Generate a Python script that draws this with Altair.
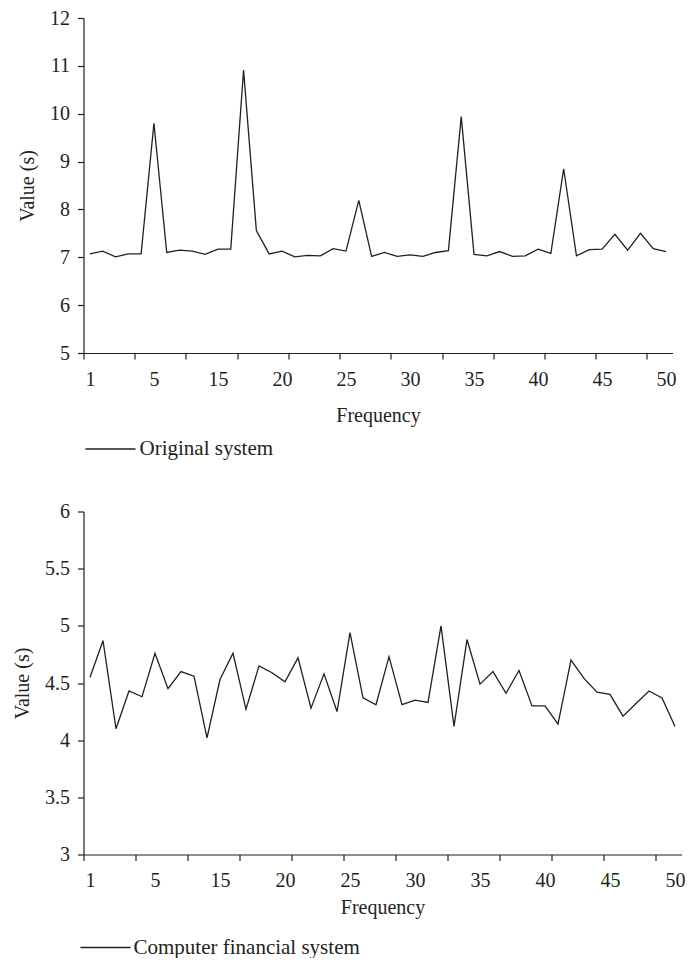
import altair as alt
import pandas as pd

# ---- data ----
x_index = list(range(1, 47))
original_values = [7.07, 7.13, 7.01, 7.07, 7.07, 9.80, 7.10, 7.15, 7.13, 7.06,
                   7.17, 7.17, 10.91, 7.56, 7.07, 7.13, 7.01, 7.04, 7.03, 7.18,
                   7.13, 8.19, 7.02, 7.10, 7.02, 7.05, 7.02, 7.10, 7.14, 9.94,
                   7.06, 7.03, 7.12, 7.02, 7.03, 7.17, 7.08, 8.85, 7.03, 7.16,
                   7.17, 7.48, 7.15, 7.50, 7.18, 7.12]
computer_values = [4.55, 4.87, 4.10, 4.43, 4.38, 4.76, 4.45, 4.60, 4.56, 4.02,
                   4.53, 4.76, 4.27, 4.65, 4.59, 4.51, 4.72, 4.28, 4.58, 4.25,
                   4.94, 4.37, 4.31, 4.73, 4.31, 4.35, 4.33, 5.00, 4.12, 4.88,
                   4.49, 4.60, 4.41, 4.61, 4.30, 4.30, 4.14, 4.70, 4.54, 4.42,
                   4.40, 4.21, 4.32, 4.43, 4.37, 4.12]
x_tick_labels = ["1", "5", "15", "20", "25", "30", "35", "40", "45", "50"]
top_y_ticks = [5, 6, 7, 8, 9, 10, 11, 12]
bottom_y_ticks = [3, 3.5, 4, 4.5, 5, 5.5, 6]
series_names = ["Original system", "Computer financial system"]

FONT = "Liberation Serif"
INK = "#231f20"

label_pos = [1 + 5 * i for i in range(len(x_tick_labels))]      # category centres
tick_pos = [0.5 + 4 * i for i in range(12)]                      # category boundaries
axis_values = sorted(label_pos + tick_pos)
label_array = "[" + ",".join("'" + s + "'" for s in x_tick_labels) + "]"
label_expr = ("datum.value % 1 != 0 ? '' : " + label_array +
              "[round((datum.value - 1) / 5)]")


def panel(values, name, ydomain, yticks, width, height, title_pad,
          legend_x, legend_y, legend_offset):
    df = pd.DataFrame({"idx": x_index, "value": values, "series": name})
    return alt.Chart(df).mark_line(strokeWidth=1.3).encode(
        x=alt.X("idx:Q",
                scale=alt.Scale(domain=[0.5, 46.5], nice=False, zero=False),
                axis=alt.Axis(values=axis_values, labelExpr=label_expr,
                              tickOpacity={"condition": {"test": "datum.value % 1 != 0", "value": 1},
                                           "value": 0},
                              labelOverlap=False, labelFlush=False, labelBound=False,
                              tickSize=6, labelPadding=10, title="Frequency",
                              titlePadding=title_pad)),
        y=alt.Y("value:Q",
                scale=alt.Scale(domain=ydomain, nice=False, zero=False),
                axis=alt.Axis(values=yticks, format="~g", tickSize=6, labelPadding=8,
                              title="Value (s)", titlePadding=12)),
        color=alt.Color("series:N",
                        scale=alt.Scale(domain=[name], range=[INK]),
                        legend=alt.Legend(title=None, orient="none", legendX=legend_x,
                                          legendY=legend_y, symbolType="stroke",
                                          symbolSize=2500, symbolStrokeWidth=1.3,
                                          labelFont=FONT, labelFontSize=21, labelLimit=0,
                                          labelColor=INK, labelOffset=legend_offset,
                                          padding=0)),
    ).properties(width=width, height=height)


top = panel(original_values, series_names[0], [5, 12], top_y_ticks, 589, 335, 16,
            1, 405, 3)
bottom = panel(computer_values, series_names[1], [3, 6], bottom_y_ticks, 598, 343, 7,
               -4, 410, 2)

chart = alt.vconcat(top, bottom, spacing=42.5).resolve_scale(color="independent").resolve_legend(
    color="independent"
).properties(
    padding={"left": 4.5, "top": 0, "right": 0, "bottom": 0}
).configure_axis(
    labelFont=FONT, titleFont=FONT, labelFontSize=20, titleFontSize=20,
    titleFontWeight="normal", labelColor=INK, titleColor=INK,
    domainColor=INK, tickColor=INK, grid=False, domainWidth=1.2, tickWidth=1.2
).configure_view(stroke=None)

chart.save("out.html", embed_options={"renderer": "svg", "actions": False})
